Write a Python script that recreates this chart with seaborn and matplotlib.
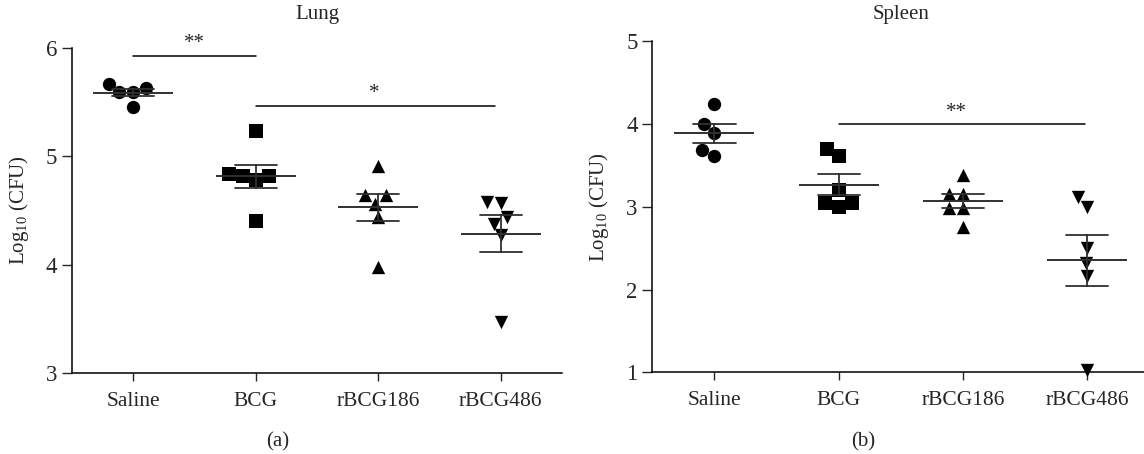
import numpy as np
import pandas as pd
import matplotlib
matplotlib.use("Agg")
import matplotlib.pyplot as plt
import seaborn as sns

groups = ["Saline", "BCG", "rBCG186", "rBCG486"]
markers = ["o", "s", "^", "v"]

lung_saline = [5.59, 5.67, 5.63, 5.59, 5.46]
lung_bcg = [5.23, 4.82, 4.84, 4.78, 4.82, 4.40]
lung_rbcg186 = [4.91, 4.56, 4.64, 4.64, 4.44, 3.98]
lung_rbcg486 = [4.57, 4.58, 4.38, 4.44, 4.27, 3.47]

spleen_saline = [4.24, 4.00, 3.89, 3.61, 3.69]
spleen_bcg = [3.70, 3.61, 3.20, 3.05, 3.00, 3.05]
spleen_rbcg186 = [3.38, 3.16, 3.16, 2.99, 2.99, 2.76]
spleen_rbcg486 = [3.12, 3.00, 2.50, 2.32, 2.16, 1.03]

lung_ticks = [3, 4, 5, 6]
spleen_ticks = [1, 2, 3, 4, 5]

sns.set_theme(style="ticks")
plt.rcParams["font.family"] = ["Liberation Serif", "DejaVu Serif"]
plt.rcParams["mathtext.fontset"] = "custom"
plt.rcParams["mathtext.rm"] = "Liberation Serif"
plt.rcParams["axes.linewidth"] = 1.1


def make_df(values_list):
    rows = []
    for g, vals in zip(groups, values_list):
        for v in vals:
            rows.append({"group": g, "value": v})
    return pd.DataFrame(rows)


W, H = 1144, 454
fig = plt.figure(figsize=(W / 100, H / 100), dpi=100)
# (left, bottom, width, height) in pixels from top-left
box1 = (72, 373, 490, 325)
box2 = (652.3, 372.3, 497, 331)
ax1 = fig.add_axes([box1[0] / W, 1 - box1[1] / H, box1[2] / W, box1[3] / H])
ax2 = fig.add_axes([box2[0] / W, 1 - box2[1] / H, box2[2] / W, box2[3] / H])


def panel(ax, box, label_x, df, ylim, ticks, title):
    for g, m in zip(groups, markers):
        sub = df[df["group"] == g]
        sns.swarmplot(data=sub, x="group", y="value", order=groups, marker=m,
                      color="black", size=9.6, linewidth=0, ax=ax, zorder=2,
                      clip_on=False)
    sns.pointplot(data=df, x="group", y="value", order=groups, errorbar="se",
                  capsize=0.34, markers="_", markersize=58, markeredgewidth=1.4,
                  linestyle="none", color="#303030",
                  err_kws={"linewidth": 1.3}, ax=ax, zorder=4)
    ax.set_xlim(-0.5, 3.5)
    ax.set_ylim(*ylim)
    ax.set_yticks(ticks)
    ax.set_xlabel("")
    ax.set_ylabel(r"Log$_{\mathregular{10}}$ (CFU)", fontsize=15)
    ax.yaxis.set_label_coords((label_x - box[0]) / box[2], 0.5)
    ax.set_title(title, fontsize=15, y=(box[1] - 15) / box[3], va="center", pad=0)
    sns.despine(ax=ax)
    ax.tick_params(axis="y", direction="out", length=7.5, width=1.0,
                   labelsize=16.5, pad=3)
    ax.tick_params(axis="x", direction="out", length=5.5, width=1.0,
                   labelsize=15.5, pad=8)
    for sp in ax.spines.values():
        sp.set_color("black")


panel(ax1, box1, 31, make_df([lung_saline, lung_bcg, lung_rbcg186, lung_rbcg486]),
      (3, 6), lung_ticks, "Lung")
panel(ax2, box2, 611, make_df([spleen_saline, spleen_bcg, spleen_rbcg186, spleen_rbcg486]),
      (1, 5), spleen_ticks, "Spleen")

# significance annotations
ax1.plot([0, 1], [5.93, 5.93], color="black", lw=1.1, clip_on=False)
ax1.text(0.5, 5.95, "**", ha="center", va="bottom", fontsize=15)
ax1.plot([1, 2.95], [5.465, 5.465], color="black", lw=1.1, clip_on=False)
ax1.text(1.97, 5.49, "*", ha="center", va="bottom", fontsize=15)
ax2.plot([1, 2.98], [4.0, 4.0], color="black", lw=1.1, clip_on=False)
ax2.text(1.95, 4.03, "**", ha="center", va="bottom", fontsize=15)

fig.text(278 / W, 1 - 442 / H, "(a)", ha="center", va="center", fontsize=15)
fig.text(863 / W, 1 - 442 / H, "(b)", ha="center", va="center", fontsize=15)

fig.savefig("out.png", dpi=100)
